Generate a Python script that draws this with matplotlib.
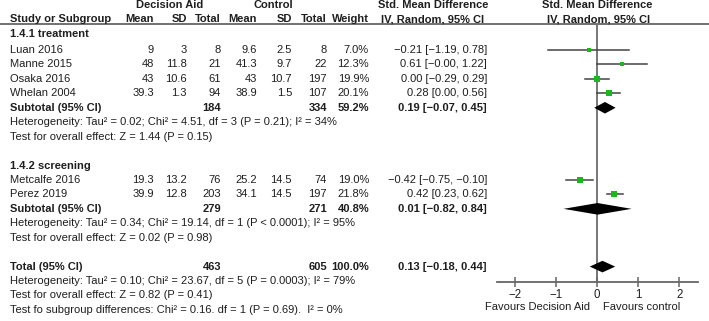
import matplotlib
matplotlib.use("Agg")
import matplotlib.pyplot as plt

plt.rcParams['font.family'] = ['Liberation Sans', 'DejaVu Sans']

# ---------------- data ----------------
studies_t = ["Luan 2016", "Manne 2015", "Osaka 2016", "Whelan 2004"]
da_mean_t = [9, 48, 43, 39.3]
da_sd_t = [3, 11.8, 10.6, 1.3]
da_n_t = [8, 21, 61, 94]
c_mean_t = [9.6, 41.3, 43, 38.9]
c_sd_t = [2.5, 9.7, 10.7, 1.5]
c_n_t = [8, 22, 197, 107]
weight_t = [7.0, 12.3, 19.9, 20.1]
smd_t = [-0.21, 0.61, 0.00, 0.28]
lo_t = [-1.19, -0.00, -0.29, 0.00]
hi_t = [0.78, 1.22, 0.29, 0.56]

studies_s = ["Metcalfe 2016", "Perez 2019"]
da_mean_s = [19.3, 39.9]
da_sd_s = [13.2, 12.8]
da_n_s = [76, 203]
c_mean_s = [25.2, 34.1]
c_sd_s = [14.5, 14.5]
c_n_s = [74, 197]
weight_s = [19.0, 21.8]
smd_s = [-0.42, 0.42]
lo_s = [-0.75, 0.23]
hi_s = [-0.10, 0.62]

# subtotal / total: label, da_n, c_n, weight, smd, lo, hi
sub_t = ("Subtotal (95% CI)", 184, 334, 59.2, 0.19, -0.07, 0.45)
sub_s = ("Subtotal (95% CI)", 279, 271, 40.8, 0.01, -0.82, 0.84)
total = ("Total (95% CI)", 463, 605, 100.0, 0.13, -0.18, 0.44)

het_t = "Heterogeneity: Tau² = 0.02; Chi² = 4.51, df = 3 (P = 0.21); I² = 34%"
test_t = "Test for overall effect: Z = 1.44 (P = 0.15)"
het_s = "Heterogeneity: Tau² = 0.34; Chi² = 19.14, df = 1 (P < 0.0001); I² = 95%"
test_s = "Test for overall effect: Z = 0.02 (P = 0.98)"
het_all = "Heterogeneity: Tau² = 0.10; Chi² = 23.67, df = 5 (P = 0.0003); I² = 79%"
test_all = "Test for overall effect: Z = 0.82 (P = 0.41)"
test_sub = "Test fo subgroup differences: Chi² = 0.16. df = 1 (P = 0.69).  I² = 0%"

xticks = [-2, -1, 0, 1, 2]
fav_left = "Favours Decision Aid"
fav_right = "Favours control"

# ---------------- layout ----------------
W, H = 709, 321
FS = 8.0
TXT = '#1e1e1e'
GREEN = '#19b919'

def rowy(k):
    return 50 + 14.44 * (k - 1)

fig = plt.figure(figsize=(W / 100, H / 100), dpi=100)
at = fig.add_axes([0, 0, 1, 1])
at.set_xlim(0, W)
at.set_ylim(H, 0)
at.axis('off')

X_LABEL = 10
X_COLS = [154, 187, 221, 257, 292, 327, 369]
X_EFF = 487
X_EFF_HDR = 433
AX_L, AX_R, AX_T, AX_B = 496.7, 698, 23, 281.7

fa = fig.add_axes([AX_L / W, 1 - AX_B / H, (AX_R - AX_L) / W, (AX_B - AX_T) / H])
fa.patch.set_alpha(0)
fa.set_xlim(-2.45, 2.46)
fa.set_ylim(AX_B, AX_T)
for s in ['top', 'left', 'right']:
    fa.spines[s].set_visible(False)
fa.spines['bottom'].set_color('#666666')
fa.spines['bottom'].set_linewidth(1.3)
fa.set_yticks([])
fa.set_xticks(xticks)
fa.tick_params(axis='x', direction='inout', length=7, width=1.1, color='#666666',
               labelsize=FS + 0.3, labelcolor=TXT, pad=1.5)

def t(x, y, s, ha='left', bold=False):
    at.text(x, y, s, ha=ha, va='center', fontsize=FS, color=TXT,
            fontweight='bold' if bold else 'normal')

def fmt(v):
    return f"{v:g}"

def eff(m, l, h):
    return f"{m:.2f} [{l:.2f}, {h:.2f}]".replace('-', '\u2212')

# headers
t(170, 5, "Decision Aid", ha='center', bold=True)
t(273, 5, "Control", ha='center', bold=True)
t(X_EFF_HDR, 5, "Std. Mean Difference", ha='center', bold=True)
t(597, 5, "Std. Mean Difference", ha='center', bold=True)
t(X_LABEL, 19, "Study or Subgroup", bold=True)
for x, s in zip(X_COLS, ["Mean", "SD", "Total", "Mean", "SD", "Total", "Weight"]):
    t(x, 19, s, ha='right', bold=True)
t(X_EFF_HDR, 19, "IV, Random, 95% CI", ha='center', bold=True)
t(599, 19, "IV, Random, 95% CI", ha='center', bold=True)
at.plot([0, W], [23.5, 23.5], color='#666666', lw=1.3)

# zero line
fa.axvline(0, color='#777777', lw=1.4, zorder=1)

def study_rows(k0, names, dm, dsd, dn, cm, csd, cn, w, smd, lo, hi):
    for i in range(len(names)):
        y = rowy(k0 + i)
        t(X_LABEL, y, names[i])
        vals = [fmt(dm[i]), fmt(dsd[i]), fmt(dn[i]), fmt(cm[i]), fmt(csd[i]),
                fmt(cn[i]), f"{w[i]:.1f}%"]
        for x, s in zip(X_COLS, vals):
            t(x, y, s, ha='right')
        t(X_EFF, y, eff(smd[i], lo[i], hi[i]), ha='right')
        fa.plot([lo[i], hi[i]], [y, y], color='#444444', lw=1.1, zorder=2)
        fa.plot([smd[i]], [y], marker='s', color=GREEN, ms=0.85 * w[i] ** 0.5,
                mew=0, zorder=3)

def summary_row(k, row):
    label, dn, cn, w, m, l, h = row
    y = rowy(k)
    t(X_LABEL, y, label, bold=True)
    t(X_COLS[2], y, fmt(dn), ha='right', bold=True)
    t(X_COLS[5], y, fmt(cn), ha='right', bold=True)
    t(X_COLS[6], y, f"{w:.1f}%", ha='right', bold=True)
    t(X_EFF, y, eff(m, l, h), ha='right', bold=True)
    hh = 5.8
    fa.fill([l, m, h, m], [y, y - hh, y, y + hh], color='black', lw=0, zorder=3)

t(X_LABEL, rowy(0) - 1.5, "1.4.1 treatment", bold=True)
study_rows(1, studies_t, da_mean_t, da_sd_t, da_n_t, c_mean_t, c_sd_t, c_n_t,
           weight_t, smd_t, lo_t, hi_t)
summary_row(5, sub_t)
t(X_LABEL, rowy(6), het_t)
t(X_LABEL, rowy(7), test_t)

t(X_LABEL, rowy(9), "1.4.2 screening", bold=True)
study_rows(10, studies_s, da_mean_s, da_sd_s, da_n_s, c_mean_s, c_sd_s, c_n_s,
           weight_s, smd_s, lo_s, hi_s)
summary_row(12, sub_s)
t(X_LABEL, rowy(13), het_s)
t(X_LABEL, rowy(14), test_s)

summary_row(16, total)
t(X_LABEL, rowy(17), het_all)
t(X_LABEL, rowy(18), test_all)
t(X_LABEL, rowy(19), test_sub)

t(590, 306.7, fav_left, ha='right')
t(603, 306.7, fav_right, ha='left')

fig.savefig("out.png", dpi=100)
